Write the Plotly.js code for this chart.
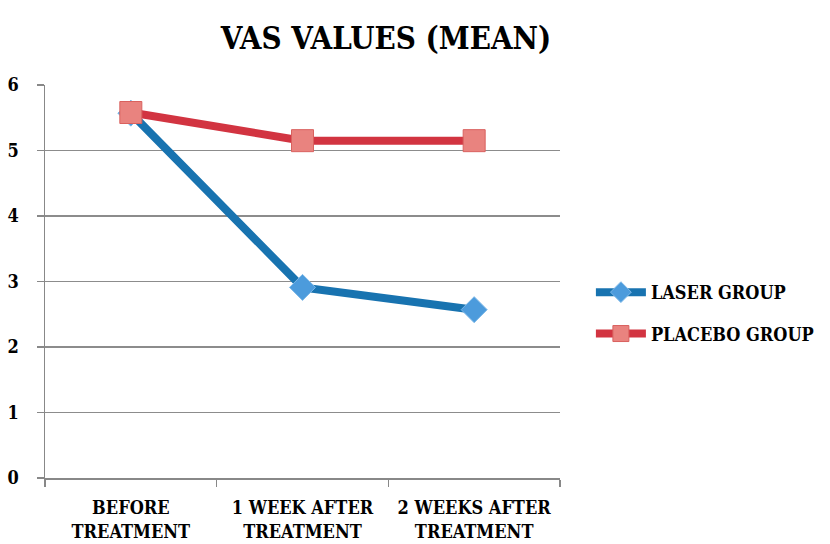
<!DOCTYPE html>
<html>
<head>
<meta charset="utf-8">
<script src="https://cdn.plot.ly/plotly-3.0.1.min.js"></script>
<style>html,body{margin:0;padding:0;background:#fff;}#chart{width:830px;height:544px;}</style>
</head>
<body>
<div id="chart"></div>
<script>
const categories = ["BEFORE<br>TREATMENT", "1 WEEK AFTER<br>TREATMENT", "2 WEEKS AFTER<br>TREATMENT"];
const laserValues = [5.57, 2.91, 2.57];
const placeboValues = [5.58, 5.15, 5.15];
const seriesNames = ["LASER GROUP", "PLACEBO GROUP"];
const yTicks = [0, 1, 2, 3, 4, 5, 6];

const serif = "DejaVu Serif Condensed, DejaVu Serif, serif";
const bold = s => "<b>" + s + "</b>";

const traces = [
  {
    x: categories, y: laserValues, name: bold(seriesNames[0]), legendgroup: "a", type: "scatter", mode: "lines+markers",
    line: {color: "#1873B0", width: 8},
    marker: {symbol: "diamond", size: 20, color: "#4C9BDC", line: {color: "#7DB8E8", width: 1}}
  },
  {
    x: categories, y: placeboValues, name: bold(seriesNames[1]), legendgroup: "b", type: "scatter", mode: "lines+markers",
    line: {color: "#D23441", width: 8},
    marker: {symbol: "square", size: 22, color: "#E9837F", line: {color: "#D9615E", width: 1}}
  }
];

const layout = {
  width: 830, height: 544,
  font: {family: serif, color: "#000"},
  paper_bgcolor: "#fff", plot_bgcolor: "#fff",
  margin: {l: 45, r: 270, t: 85, b: 66, autoexpand: false},
  title: {text: "<b>VAS VALUES (MEAN)</b>", x: 0.465, xanchor: "center", y: 0.93, yanchor: "middle",
          font: {family: serif, size: 31, color: "#000"}},
  xaxis: {
    type: "category", range: [-0.5, 2.5], tickson: "boundaries",
    ticks: "outside", ticklen: 7, tickcolor: "#888", tickwidth: 1.5,
    showline: true, linecolor: "#888", linewidth: 1.5,
    showgrid: false, zeroline: false, tickangle: 0, automargin: false,
    tickfont: {family: serif, size: 18, color: "#000"},
    tickvals: categories, ticktext: categories.map(bold),
    ticklabelstandoff: 13
  },
  yaxis: {
    range: [0, 6], tickvals: yTicks, ticktext: yTicks.map(v => bold(String(v))),
    ticks: "outside", ticklen: 7, tickcolor: "#888", tickwidth: 1.5,
    showline: true, linecolor: "#888", linewidth: 1.5,
    showgrid: true, gridcolor: "#8c8c8c", gridwidth: 1.5,
    zeroline: false, automargin: false,
    tickfont: {family: serif, size: 18, color: "#000"},
    ticklabelstandoff: 14
  },
  legend: {
    x: 1.06, xanchor: "left", y: 0.42, yanchor: "middle",
    font: {family: serif, size: 18, color: "#000"},
    itemwidth: 50, tracegroupgap: 15,
    bgcolor: "rgba(0,0,0,0)"
  },
  showlegend: true
};

Plotly.newPlot("chart", traces, layout, {displayModeBar: false, staticPlot: true});
</script>
</body>
</html>
